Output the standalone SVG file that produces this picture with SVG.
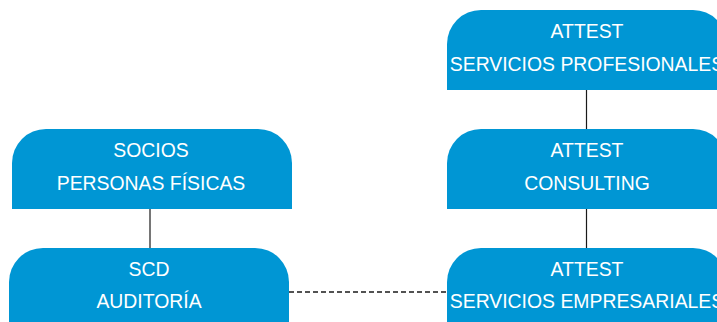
<svg xmlns="http://www.w3.org/2000/svg" width="717" height="322" viewBox="0 0 717 322">
<style>
.box{fill:#0096d4}
.t{font-family:"Liberation Sans",Arial,sans-serif;font-size:19.4px;fill:#fff;text-anchor:middle}
.ln{stroke:#1a1a1a;stroke-width:1.2;fill:none}
.dash{stroke:#1a1a1a;stroke-width:1.3;fill:none;stroke-dasharray:5 3}
</style>
<rect width="717" height="322" fill="#fff"/>
<g id="connectors">
<line class="ln" x1="150" y1="209" x2="150" y2="248"/>
<line class="ln" x1="586.5" y1="90" x2="586.5" y2="129"/>
<line class="ln" x1="586.5" y1="209" x2="586.5" y2="248"/>
<line class="dash" x1="289" y1="292" x2="447" y2="292"/>
</g>
<g id="socios">
<path class="box" d="M12 209 V163 A34 34 0 0 1 46 129 H258 A34 34 0 0 1 292 163 V209 Z"/>
<text class="t" x="151" y="157">SOCIOS</text>
<text class="t" x="151" y="190">PERSONAS FÍSICAS</text>
</g>
<g id="scd">
<path class="box" d="M9 330 V282 A34 34 0 0 1 43 248 H255 A34 34 0 0 1 289 282 V330 Z"/>
<text class="t" x="149" y="276">SCD</text>
<text class="t" x="149" y="308">AUDITORÍA</text>
</g>
<g id="attest-sp">
<path class="box" d="M447 90 V44 A34 34 0 0 1 481 10 H693 A34 34 0 0 1 727 44 V90 Z"/>
<text class="t" x="587" y="38">ATTEST</text>
<text class="t" x="587" y="71">SERVICIOS PROFESIONALES</text>
</g>
<g id="attest-consulting">
<path class="box" d="M447 209 V163 A34 34 0 0 1 481 129 H693 A34 34 0 0 1 727 163 V209 Z"/>
<text class="t" x="587" y="157">ATTEST</text>
<text class="t" x="587" y="190">CONSULTING</text>
</g>
<g id="attest-se">
<path class="box" d="M447 330 V282 A34 34 0 0 1 481 248 H693 A34 34 0 0 1 727 282 V330 Z"/>
<text class="t" x="587" y="276">ATTEST</text>
<text class="t" x="587" y="308">SERVICIOS EMPRESARIALES</text>
</g>
</svg>
